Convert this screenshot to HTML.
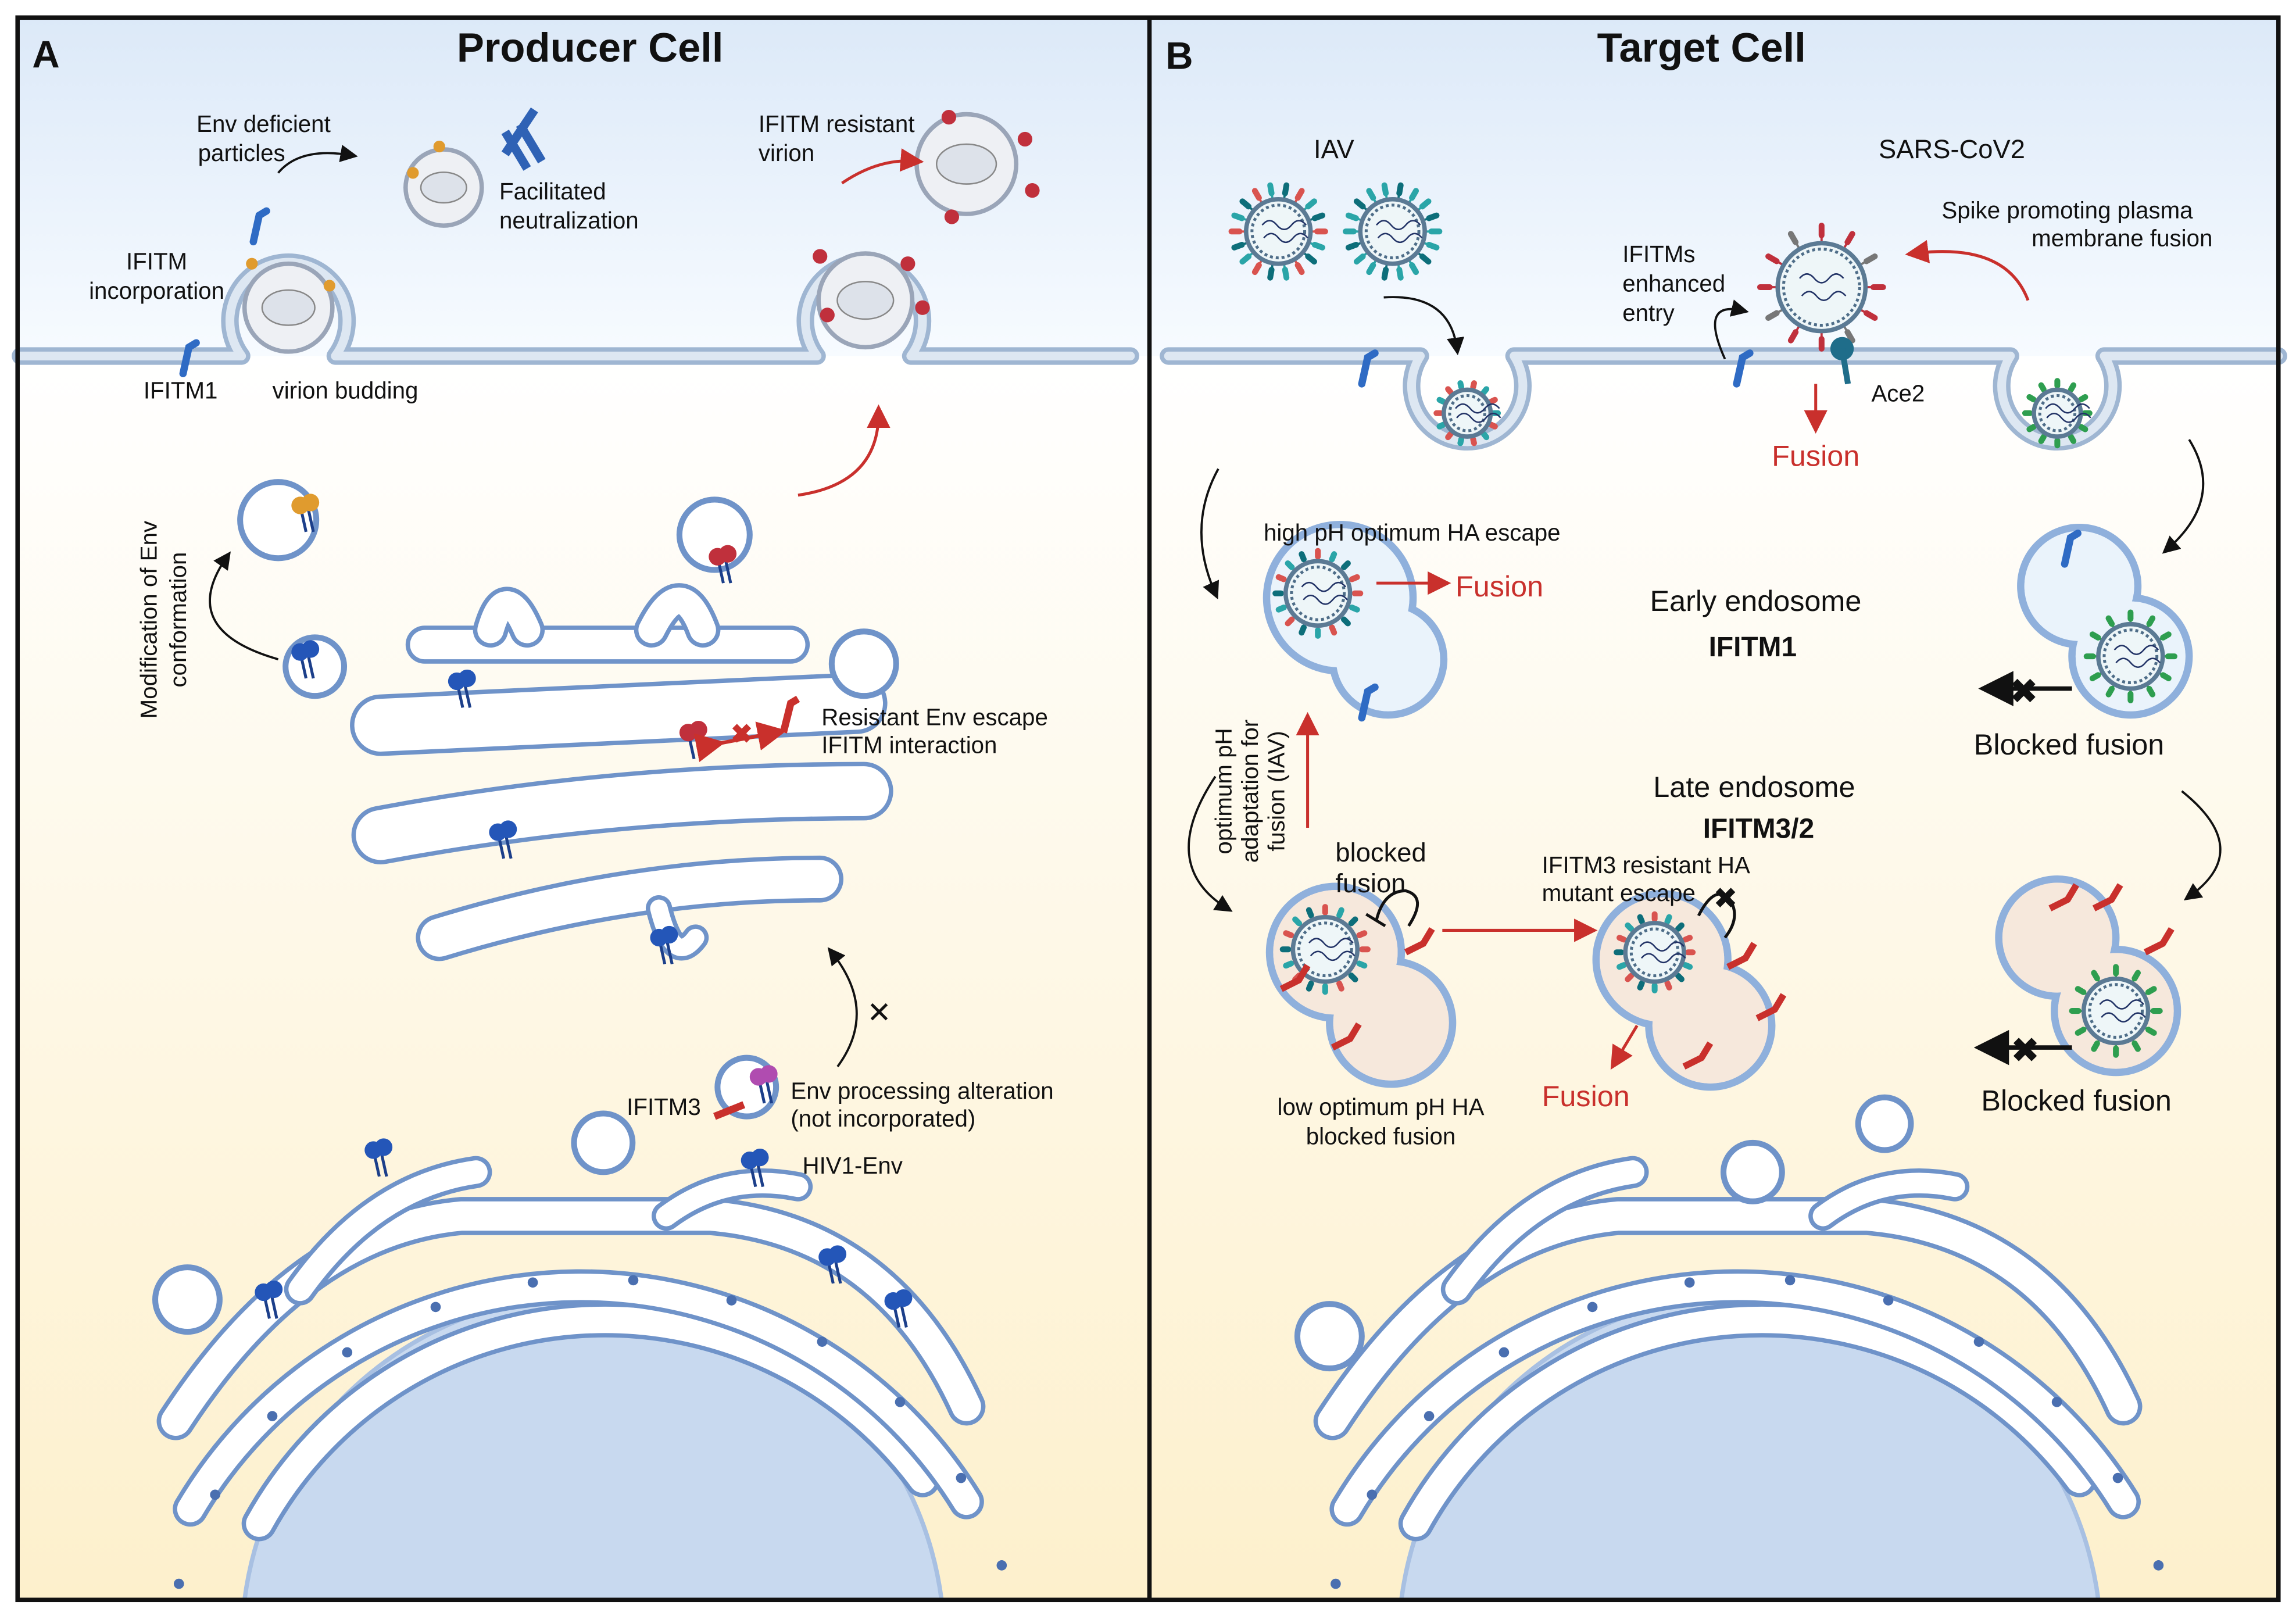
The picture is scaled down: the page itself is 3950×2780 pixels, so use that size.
<!DOCTYPE html>
<html><head><meta charset="utf-8">
<style>
html,body{margin:0;padding:0;background:#fff;}
svg{display:block;}
text{font-family:"Liberation Sans",sans-serif;fill:#111;}
</style></head>
<body>
<svg id="s" width="3950" height="2780" viewBox="0 0 1568 1103" preserveAspectRatio="none" xmlns="http://www.w3.org/2000/svg">
<defs>
<linearGradient id="gt" x1="0" y1="0" x2="0" y2="1">
<stop offset="0" stop-color="#dce9f8"/><stop offset="1" stop-color="#f7fbff"/></linearGradient>
<linearGradient id="gb" x1="0" y1="0" x2="0" y2="1">
<stop offset="0" stop-color="#ffffff"/><stop offset="1" stop-color="#fdf0cc"/></linearGradient>
<marker id="ak" markerWidth="8" markerHeight="8" refX="5" refY="4" orient="auto"><path d="M0,0 L8,4 L0,8 Z" fill="#111"/></marker>
<marker id="ar" markerWidth="8" markerHeight="8" refX="5" refY="4" orient="auto"><path d="M0,0 L8,4 L0,8 Z" fill="#c9302c"/></marker>
</defs>
<rect x="0" y="0" width="1568" height="1103" fill="#fff"/>
<rect x="12" y="12" width="1544" height="231" fill="url(#gt)"/>
<rect x="12" y="243" width="1544" height="849" fill="url(#gb)"/>
<g id="g"></g>
<rect x="12" y="12" width="1544" height="1080" fill="none" stroke="#111" stroke-width="3"/>
<line x1="785" y1="12" x2="785" y2="1092" stroke="#111" stroke-width="3"/>

<g font-size="16">
<text x="22" y="46" font-size="26" font-weight="bold">A</text>
<text x="403" y="42" font-size="28" font-weight="bold" text-anchor="middle">Producer Cell</text>
<text x="796" y="47" font-size="26" font-weight="bold">B</text>
<text x="1162" y="42" font-size="28" font-weight="bold" text-anchor="middle">Target Cell</text>

<text x="180" y="90" text-anchor="middle">Env deficient</text>
<text x="165" y="110" text-anchor="middle">particles</text>
<text x="341" y="136">Facilitated</text>
<text x="341" y="156">neutralization</text>
<text x="518" y="90">IFITM resistant</text>
<text x="518" y="110">virion</text>
<text x="107" y="184" text-anchor="middle">IFITM</text>
<text x="107" y="204" text-anchor="middle">incorporation</text>
<text x="98" y="272">IFITM1</text>
<text x="186" y="272">virion budding</text>
<text transform="translate(107,423) rotate(-90)" text-anchor="middle">Modification of Env</text>
<text transform="translate(127,423) rotate(-90)" text-anchor="middle">conformation</text>
<text x="561" y="495">Resistant Env escape</text>
<text x="561" y="514">IFITM interaction</text>
<text x="428" y="761">IFITM3</text>
<text x="540" y="750">Env processing alteration</text>
<text x="540" y="769">(not incorporated)</text>
<text x="548" y="801">HIV1-Env</text>

<text x="911" y="108" font-size="18" text-anchor="middle">IAV</text>
<text x="1333" y="108" font-size="18" text-anchor="middle">SARS-CoV2</text>
<text x="1326" y="149">Spike promoting plasma</text>
<text x="1511" y="168" text-anchor="end">membrane fusion</text>
<text x="1108" y="179">IFITMs</text>
<text x="1108" y="199">enhanced</text>
<text x="1108" y="219">entry</text>
<text x="1278" y="274">Ace2</text>
<text x="1240" y="318" font-size="20" text-anchor="middle" style="fill:#c9302c">Fusion</text>
<text x="863" y="369">high pH optimum HA escape</text>
<text x="994" y="407" font-size="20" style="fill:#c9302c">Fusion</text>
<text x="1199" y="417" font-size="20" text-anchor="middle">Early endosome</text>
<text x="1197" y="448" font-size="19" font-weight="bold" text-anchor="middle">IFITM1</text>
<text x="1413" y="515" font-size="20" text-anchor="middle">Blocked fusion</text>
<text x="1198" y="544" font-size="20" text-anchor="middle">Late endosome</text>
<text x="1201" y="572" font-size="19" font-weight="bold" text-anchor="middle">IFITM3/2</text>
<text transform="translate(841,540) rotate(-90)" text-anchor="middle">optimum pH</text>
<text transform="translate(859,540) rotate(-90)" text-anchor="middle">adaptation for</text>
<text transform="translate(877,540) rotate(-90)" text-anchor="middle">fusion (IAV)</text>
<text x="943" y="588" font-size="18" text-anchor="middle">blocked</text>
<text x="936" y="609" font-size="18" text-anchor="middle">fusion</text>
<text x="1053" y="596">IFITM3 resistant HA</text>
<text x="1053" y="615">mutant escape</text>
<text x="1083" y="755" font-size="20" text-anchor="middle" style="fill:#c9302c">Fusion</text>
<text x="943" y="761" text-anchor="middle">low optimum pH HA</text>
<text x="943" y="781" text-anchor="middle">blocked fusion</text>
<text x="1418" y="758" font-size="20" text-anchor="middle">Blocked fusion</text>
</g>
</svg>
<script>
var NS="http://www.w3.org/2000/svg",G=document.getElementById('g');
function el(t,a){var e=document.createElementNS(NS,t);for(var k in a)e.setAttribute(k,a[k]);G.appendChild(e);return e;}
var BL="#8fb0dc",BD="#6f93c9";
function tube(d,w,col,inner){el('path',{d:d,fill:'none',stroke:col||BD,'stroke-width':w+6,'stroke-linecap':'round','stroke-linejoin':'round'});
el('path',{d:d,fill:'none',stroke:inner||'#fff','stroke-width':w,'stroke-linecap':'round','stroke-linejoin':'round'});}
function ves(x,y,r){el('circle',{cx:x,cy:y,r:r,fill:'#fff',stroke:BD,'stroke-width':4});}
function virus(x,y,r,cols,n,len){
 for(var i=0;i<n;i++){var a=i/n*2*Math.PI;var c=cols[i%cols.length];
  var x1=x+Math.cos(a)*r,y1=y+Math.sin(a)*r,x2=x+Math.cos(a)*(r+len),y2=y+Math.sin(a)*(r+len);
  el('line',{x1:x1,y1:y1,x2:x2,y2:y2,stroke:c,'stroke-width':1.5});
  el('line',{x1:x+Math.cos(a)*(r+len*0.45),y1:y+Math.sin(a)*(r+len*0.45),x2:x2,y2:y2,stroke:c,'stroke-width':4,'stroke-linecap':'round'});}
 el('circle',{cx:x,cy:y,r:r,fill:'#eef6f8',stroke:'#5b7a94','stroke-width':3});
 el('circle',{cx:x,cy:y,r:r-4,fill:'none',stroke:'#4e6d88','stroke-width':2,'stroke-dasharray':'2 2'});
 el('path',{d:'M'+(x-r*.5)+' '+(y-r*.2)+' q5 -6 10 0 t10 0 t10 0 M'+(x-r*.45)+' '+(y+r*.2)+' q5 -6 10 0 t10 0 t10 0',fill:'none',stroke:'#223366','stroke-width':1});}
function gp(x,y,r){ el('circle',{cx:x,cy:y,r:r,fill:'#eef0f4',stroke:'#9aa5b8','stroke-width':3});
 el('ellipse',{cx:x,cy:y,rx:r*.6,ry:r*.4,fill:'#dde2ea',stroke:'#888','stroke-width':1});}
function blob(c1,c2,fill){[c1,c2].forEach(function(c){el('circle',{cx:c[0],cy:c[1],r:c[2],fill:fill,stroke:BL,'stroke-width':5});});
 [c1,c2].forEach(function(c){el('circle',{cx:c[0],cy:c[1],r:c[2]-2.5,fill:fill});});}
function arr(d,red){el('path',{d:d,fill:'none',stroke:red?'#c9302c':'#111','stroke-width':red?2:1.5,'marker-end':'url(#'+(red?'ar':'ak')+')'});}
function ifitm(x,y,c){el('path',{d:'M'+x+' '+y+' l4 -18 l5 -3',fill:'none',stroke:c||'#2f6bc4','stroke-width':5,'stroke-linecap':'round'});}
function env(x,y,c){el('line',{x1:x,y1:y,x2:x+4,y2:y+18,stroke:'#1c3f8a','stroke-width':2});el('line',{x1:x+5,y1:y,x2:x+9,y2:y+18,stroke:'#1c3f8a','stroke-width':2});
 el('circle',{cx:x,cy:y,r:6,fill:c||'#2456b8'});el('circle',{cx:x+7,cy:y-2,r:6,fill:c||'#2456b8'});}

// plasma membrane with buds / pits
var MC="#9fb6d2",MI="#dde7f2";
tube('M14 243 L165 243 A40 40 0 1 1 229 243 L558 243 A40 40 0 1 1 622 243 L772 243',6,MC,MI);
tube('M798 243 L970 243 A38 38 0 1 0 1034 243 L1373 243 A38 38 0 1 0 1437 243 L1556 243',6,MC,MI);
// nuclei
[[405],[1195]].forEach(function(n){var cx=n[0];
 el('path',{d:'M'+(cx-238)+' 1092 A240 240 0 0 1 '+(cx+238)+' 1092 Z',fill:'#c8d9ef',stroke:'#a8c0e2','stroke-width':3});
 tube('M'+(cx-228)+' 1040 A270 270 0 0 1 '+(cx+225)+' 1010',18);
 tube('M'+(cx-275)+' 1030 A310 310 0 0 1 '+(cx+255)+' 1025',18);
 tube('M'+(cx-285)+' 970 Q'+(cx-200)+' 840 '+(cx-90)+' 830 L'+(cx+80)+' 830 Q'+(cx+200)+' 840 '+(cx+255)+' 960',20);
 tube('M'+(cx-200)+' 880 Q'+(cx-150)+' 810 '+(cx-80)+' 800',16);
 tube('M'+(cx+50)+' 830 Q'+(cx+90)+' 800 '+(cx+140)+' 810',14);
 for(var i=0;i<12;i++){var a=Math.PI*(1.08+i*0.075);el('circle',{cx:cx+Math.cos(a)*292,cy:1150+Math.sin(a)*292*0.95,r:3.5,fill:'#4a6fb0'});}
});
ves(128,887,22);ves(412,780,20);ves(908,912,22);ves(1197,800,20);ves(1287,767,18);
// Golgi left
tube('M290 440 L540 440',20);tube('M335 430 Q345 395 360 430',18);tube('M445 430 Q465 390 480 430',18);
tube('M260 495 L585 480',36);
tube('M260 570 Q420 540 590 540',34);
tube('M300 640 Q430 600 560 600',26);tube('M450 620 Q460 660 475 640',12);
ves(590,453,22);ves(488,365,24);ves(190,355,26);ves(215,455,20);ves(510,742,20);
// producer viruses
gp(303,128,26);gp(197,210,30);gp(591,205,32);gp(660,112,34);
[[172,180],[225,195],[282,118],[300,100]].forEach(function(p){el('circle',{cx:p[0],cy:p[1],r:4,fill:'#e09b2e'});});
[[560,175],[620,180],[565,215],[630,210],[648,80],[700,95],[705,130],[650,148]].forEach(function(p){el('circle',{cx:p[0],cy:p[1],r:5,fill:'#c0303c'});});
el('path',{d:'M345 90 l15 25 M355 85 l15 25 M365 75 l-20 30',stroke:'#2f62b5','stroke-width':6,fill:'none'});
ifitm(125,255);ifitm(173,165);
env(205,345,'#e09b2e');env(205,445);env(312,465);env(470,500,'#c0303c');env(490,380,'#c0303c');env(340,568);env(450,640);env(518,735,'#b04cb0');env(255,785);env(180,882);env(565,858);env(610,888);env(512,792);
el('path',{d:'M488 508 L530 500',stroke:'#c9302c','stroke-width':2.5,'marker-end':'url(#ar)','marker-start':'url(#ar)'});
el('text',{x:499,y:507,'font-size':18,'font-weight':'bold',style:'fill:#c9302c'}).textContent='✖';
el('path',{d:'M535 500 l5 -20 l5 -3',stroke:'#c9302c','stroke-width':5,fill:'none'});
el('path',{d:'M488 762 l20 -8',stroke:'#c9302c','stroke-width':5,fill:'none'});
arr('M190 118 Q205 100 240 106');arr('M575 125 Q600 108 625 110',true);
arr('M545 338 Q600 330 600 282',true);arr('M190 450 Q120 430 155 380');arr('M572 728 Q600 690 568 650');
el('text',{x:592,y:698,'font-size':20}).textContent='✕';
// target viruses
virus(873,158,22,['#d9534f','#2aa5a8','#0d6e7a'],18,10);virus(951,158,22,['#2aa5a8','#2aa5a8','#0d6e7a'],18,10);
virus(1002,282,16,['#2aa5a8','#d9534f'],14,5);
virus(1405,282,16,['#2e9e4f'],12,6);
virus(1244,196,30,['#c0303c','#c0303c','#777'],12,12);
ifitm(930,262);ifitm(1186,262);
el('circle',{cx:1258,cy:238,r:8,fill:'#1f6d8a'});el('line',{x1:1258,y1:238,x2:1262,y2:262,stroke:'#1f6d8a','stroke-width':4});
arr('M945 203 Q990 200 995 238');arr('M1178 245 Q1160 205 1190 212');arr('M1385 205 Q1370 165 1307 173',true);
arr('M1240 262 L1240 290',true);
// endosomes
blob([915,408,50],[948,450,38],'#eaf3fb');virus(900,405,22,['#d9534f','#2aa5a8','#0d6e7a'],16,7);
blob([1420,400,40],[1455,448,40],'#eaf3fb');virus(1455,448,22,['#2e9e4f'],12,8);
blob([912,650,45],[950,698,42],'#f6e8dc');virus(905,648,22,['#d9534f','#2aa5a8','#0d6e7a'],16,7);
blob([1135,655,45],[1168,700,42],'#f6e8dc');virus(1130,650,20,['#d9534f','#2aa5a8','#0d6e7a'],16,6);
blob([1405,640,40],[1445,690,42],'#f6e8dc');virus(1445,690,22,['#2e9e4f'],12,8);
ifitm(930,490);ifitm(1410,385);
[[875,675],[910,715],[960,650],[1180,660],[1200,695],[1150,728],[1400,620],[1430,620],[1465,650]].forEach(function(p){el('path',{d:'M'+p[0]+' '+p[1]+' l12 -6 l6 -10',stroke:'#c9302c','stroke-width':4.5,fill:'none'});});
arr('M940 398 L985 398',true);arr('M893 565 L893 492',true);arr('M985 635 L1085 635',true);arr('M1118 700 L1103 725',true);
arr('M832 320 Q810 360 830 405');arr('M830 530 Q790 590 838 620');arr('M1495 300 Q1520 340 1480 375');arr('M1490 540 Q1540 580 1495 612');
el('path',{d:'M940 628 Q945 608 960 608 Q975 612 962 632',fill:'none',stroke:'#111','stroke-width':2});el('line',{x1:933,y1:624,x2:946,y2:632,stroke:'#111','stroke-width':2});
el('path',{d:'M1160 625 Q1170 605 1180 612 Q1190 625 1178 640',fill:'none',stroke:'#111','stroke-width':2});
el('text',{x:1170,y:620,'font-size':20}).textContent='✖';
el('path',{d:'M1415 470 L1360 470',stroke:'#111','stroke-width':3,'marker-end':'url(#ak)'});el('text',{x:1372,y:480,'font-size':24}).textContent='✖';
el('path',{d:'M1415 715 L1357 715',stroke:'#111','stroke-width':3,'marker-end':'url(#ak)'});el('text',{x:1373,y:725,'font-size':24}).textContent='✖';
</script>
</body></html>
